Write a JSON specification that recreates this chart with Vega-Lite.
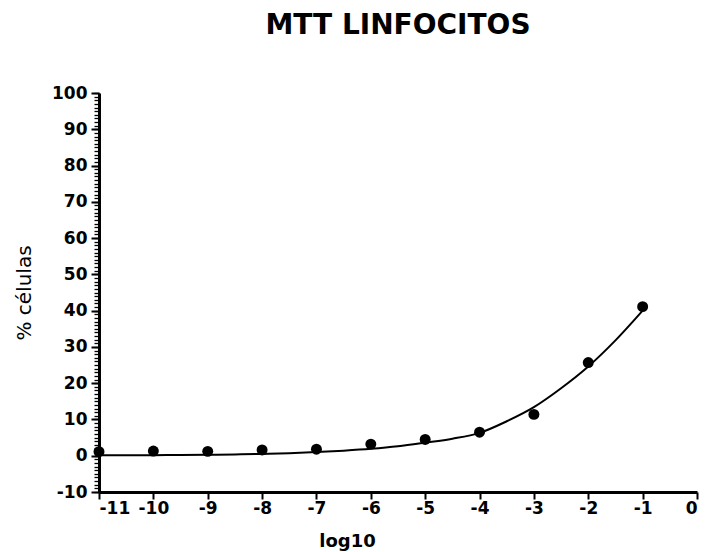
{
  "$schema": "https://vega.github.io/schema/vega-lite/v6.json",
  "width": 598,
  "height": 399,
  "autosize": {"type": "none"},
  "padding": {"left": 99, "top": 93, "right": 9, "bottom": 60},
  "background": "white",
  "title": {
    "text": "MTT LINFOCITOS",
    "font": "DejaVu Sans",
    "fontWeight": "bold",
    "fontSize": 28,
    "color": "black",
    "anchor": "middle",
    "offset": 44
  },
  "config": {
    "view": {"stroke": null},
    "axis": {
      "grid": false,
      "domainColor": "black",
      "domainWidth": 3,
      "tickColor": "black",
      "tickWidth": 2,
      "labelFont": "DejaVu Sans",
      "labelFontWeight": "bold",
      "labelFontSize": 17,
      "labelColor": "black",
      "titleColor": "black"
    }
  },
  "datasets": {
    "points": [
      {"x": -11, "y": 1.1},
      {"x": -10, "y": 1.3},
      {"x": -9, "y": 1.2},
      {"x": -8, "y": 1.6},
      {"x": -7, "y": 1.8},
      {"x": -6, "y": 3.2},
      {"x": -5, "y": 4.5},
      {"x": -4, "y": 6.5},
      {"x": -3, "y": 11.4},
      {"x": -2, "y": 25.7},
      {"x": -1, "y": 41.1}
    ],
    "curve": [
      {"x": -11, "y": 0.1},
      {"x": -10.5, "y": 0.1},
      {"x": -10, "y": 0.15},
      {"x": -9.5, "y": 0.2},
      {"x": -9, "y": 0.25},
      {"x": -8.5, "y": 0.35},
      {"x": -8, "y": 0.5},
      {"x": -7.5, "y": 0.7},
      {"x": -7, "y": 1.0},
      {"x": -6.5, "y": 1.4},
      {"x": -6, "y": 1.9},
      {"x": -5.5, "y": 2.6},
      {"x": -5, "y": 3.6},
      {"x": -4.5, "y": 4.7},
      {"x": -4, "y": 6.3},
      {"x": -3.5, "y": 9.5},
      {"x": -3, "y": 13.4},
      {"x": -2.5, "y": 18.6},
      {"x": -2, "y": 24.6},
      {"x": -1.5, "y": 31.8},
      {"x": -1, "y": 40.0}
    ]
  },
  "resolve": {"axis": {"y": "independent"}},
  "layer": [
    {
      "data": {"name": "curve"},
      "mark": {"type": "line", "color": "black", "strokeWidth": 2, "interpolate": "monotone"},
      "encoding": {
        "x": {
          "field": "x", "type": "quantitative",
          "scale": {"domain": [-11, 0], "nice": false, "zero": false},
          "axis": {
            "values": [-11, -10, -9, -8, -7, -6, -5, -4, -3, -2, -1, 0],
            "tickCount": 100,
            "format": "d",
            "labelExpr": "replace(datum.label, '\u2212', '-')",
            "tickSize": 7,
            "labelPadding": 1,
            "labelOverlap": false,
            "title": "log10",
            "titleFont": "DejaVu Sans",
            "titleFontWeight": "bold",
            "titleFontSize": 18,
            "titleX": 248,
            "titleY": 54,
            "titleBaseline": "alphabetic",
            "titleAlign": "center"
          }
        },
        "y": {
          "field": "y", "type": "quantitative",
          "scale": {"domain": [-10, 100], "nice": false, "zero": false},
          "axis": {
            "orient": "left",
            "values": [-10, 0, 10, 20, 30, 40, 50, 60, 70, 80, 90, 100],
            "tickCount": 100,
            "format": "d",
            "labelExpr": "replace(datum.label, '\u2212', '-')",
            "tickSize": 8,
            "labelPadding": 4,
            "labelOverlap": false,
            "title": "% células",
            "titleFont": "DejaVu Sans",
            "titleFontWeight": "normal",
            "titleFontSize": 20,
            "titleAngle": -90,
            "titleX": -75,
            "titleY": 199.5,
            "titleAlign": "center",
            "titleBaseline": "middle"
          }
        }
      }
    },
    {
      "data": {"name": "points"},
      "mark": {"type": "point", "filled": true, "shape": "circle", "color": "black", "opacity": 1, "size": 120},
      "encoding": {
        "x": {"field": "x", "type": "quantitative"},
        "y": {
          "field": "y", "type": "quantitative",
          "axis": {
            "orient": "left",
            "offset": 0,
            "values": [-10,-9,-8,-7,-6,-5,-4,-3,-2,-1,0,1,2,3,4,5,6,7,8,9,10,11,12,13,14,15,16,17,18,19,20,21,22,23,24,25,26,27,28,29,30,31,32,33,34,35,36,37,38,39,40,41,42,43,44,45,46,47,48,49,50,51,52,53,54,55,56,57,58,59,60,61,62,63,64,65,66,67,68,69,70,71,72,73,74,75,76,77,78,79,80,81,82,83,84,85,86,87,88,89,90,91,92,93,94,95,96,97,98,99,100],
            "tickCount": 500,
            "labels": false,
            "domain": false,
            "title": null,
            "tickSize": 5,
            "tickWidth": 1.3
          }
        }
      }
    }
  ]
}
